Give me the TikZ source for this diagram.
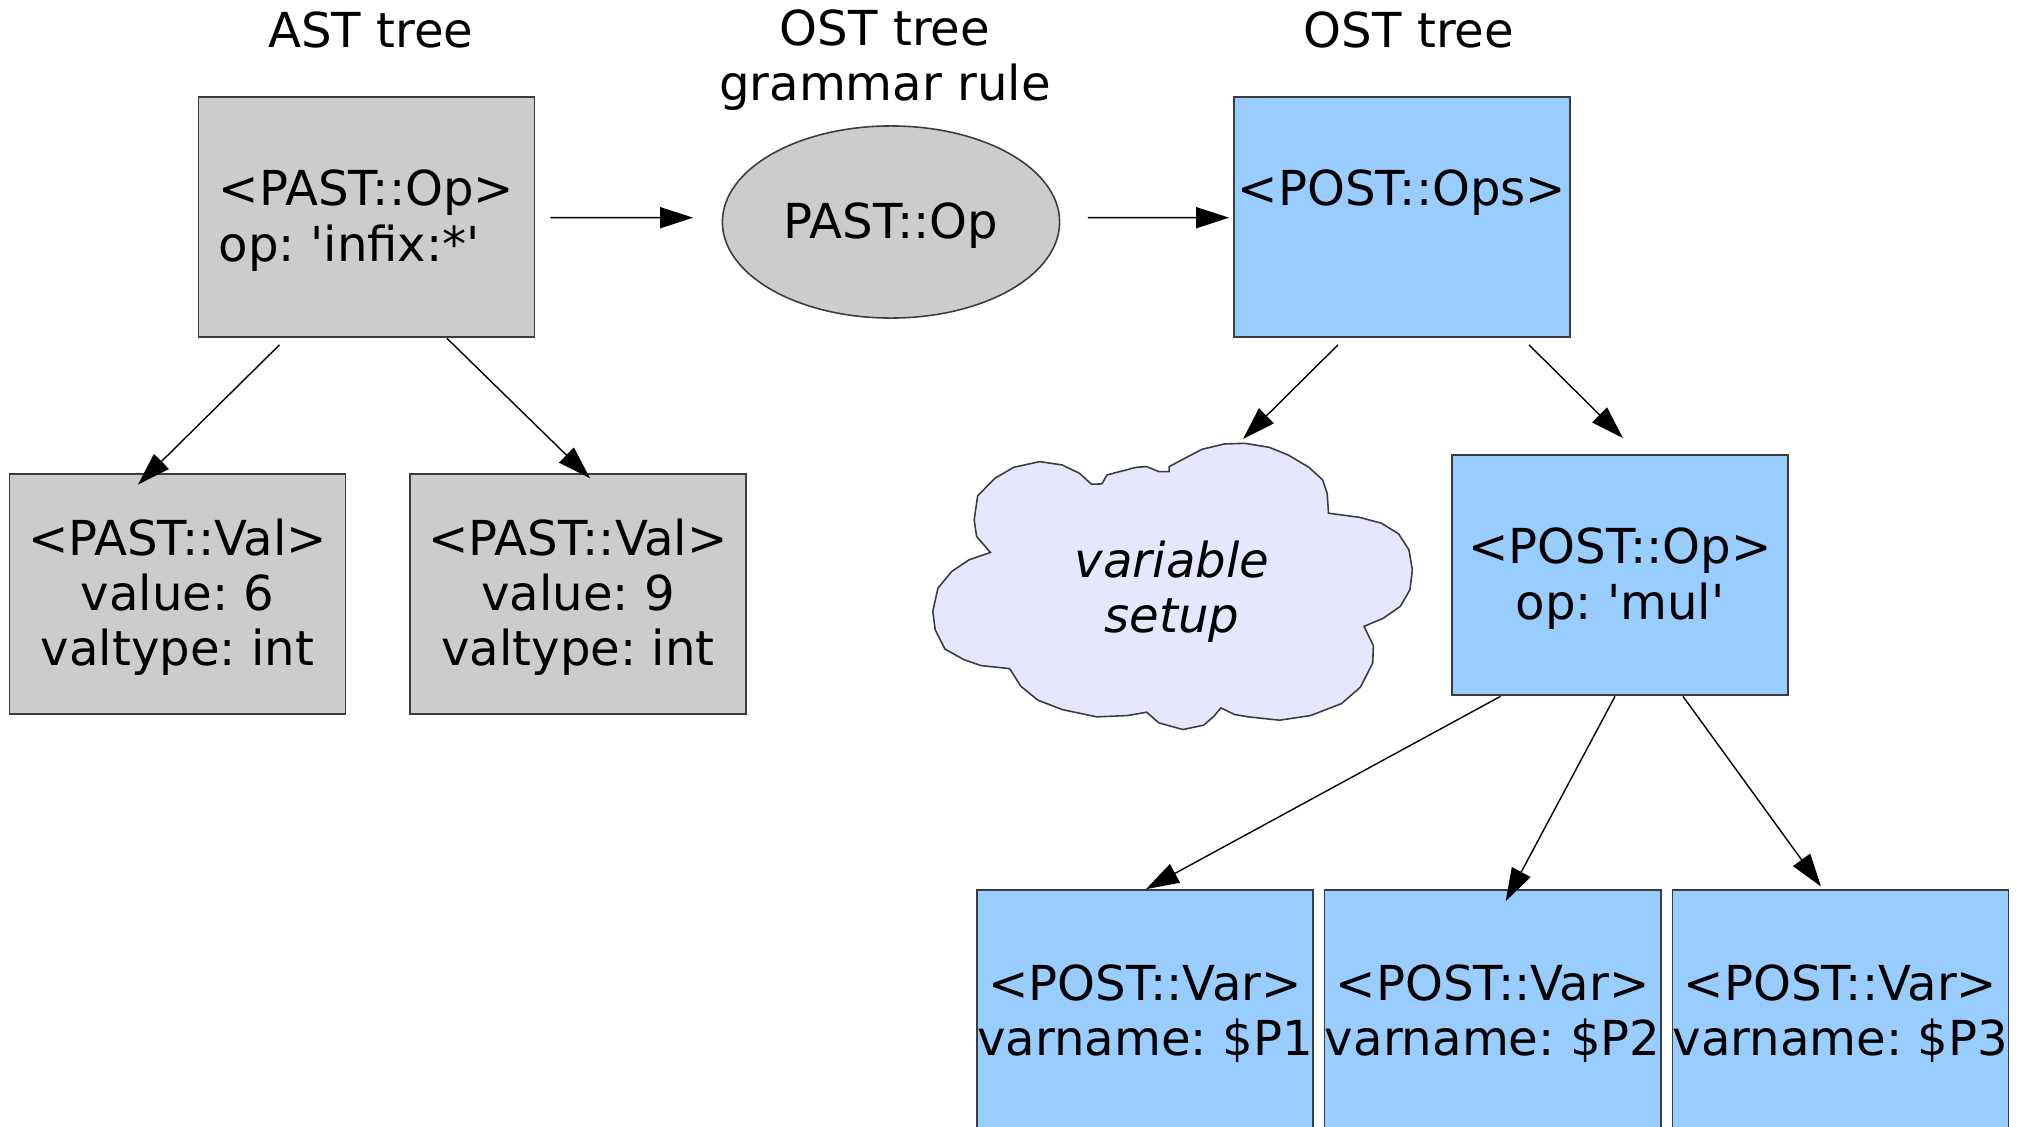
\documentclass[tikz,border=0pt]{standalone}
\usepackage{fontspec}
\setmainfont{DejaVu Sans}
\usetikzlibrary{shapes.geometric,arrows.meta,calc}
\definecolor{greyfill}{HTML}{CCCCCC}
\definecolor{bluefill}{HTML}{99CCFF}
\definecolor{cloudfill}{HTML}{E6E6FF}
\definecolor{edgecol}{HTML}{3C3C3C}
\frenchspacing
\newcommand{\toppad}{\rule{0pt}{12.2pt}}
\begin{document}
\begin{tikzpicture}[x=0.01cm,y=-0.01cm,
  font=\fontsize{13.7}{15.7}\selectfont,
  box/.style={draw=edgecol, line width=0.45pt, minimum width=3.36cm, minimum height=2.4cm, inner sep=0pt, align=center},
  greybox/.style={box, fill=greyfill},
  bluebox/.style={box, fill=bluefill},
  titlenode/.style={align=center, inner sep=0pt},
  arr/.style={draw=black, line width=0.4pt, -{Triangle[length=0.33cm,width=0.21cm]}}
]
\useasboundingbox (0,0) rectangle (2020,1127);
\clip (0,0) rectangle (2020,1127);

% titles
\node[titlenode] (t1) at (371,30) {AST tree};
\node[titlenode] (t2) at (885,60) {OST tree\\grammar rule};
\node[titlenode] (t3) at (1409,30) {OST tree};

% AST side
\node[greybox, align=left] (ast) at (366.5,217) {\toppad<PAST::Op>\\op: \textquotesingle infix:*\textquotesingle};
\node[greybox] (val6) at (177.5,594) {\toppad<PAST::Val>\\value: 6\\valtype: int};
\node[greybox] (val9) at (578,594) {\toppad<PAST::Val>\\value: 9\\valtype: int};

% grammar rule
\node[draw=edgecol, line width=0.45pt, fill=greyfill, ellipse, minimum width=3.37cm, minimum height=1.92cm, inner sep=0pt] (ell) at (891,222) {\toppad PAST::Op};

% OST side
\node[bluebox] (ost) at (1402,217) {\toppad<POST::Ops>\\\phantom{op: \textquotesingle infix:*\textquotesingle}};
\node[bluebox] (op) at (1620,575) {\toppad<POST::Op>\\op: \textquotesingle mul\textquotesingle};
\node[bluebox] (var1) at (1145,1010) {\toppad<POST::Var>\\varname: \$P1};
\node[bluebox] (var2) at (1492.7,1010) {\toppad<POST::Var>\\varname: \$P2};
\node[bluebox] (var3) at (1840.5,1010) {\toppad<POST::Var>\\varname: \$P3};

% cloud
\begin{scope}[shift={(900,430)}, x={(0.003444cm,0)}, y={(0,-0.003333cm)}]
\draw[draw=edgecol, line width=0.45pt, fill=cloudfill]
 (555,163) -- (520,130) -- (470,105) -- (405,95) -- (330,112) -- (275,145) -- (225,198)
 -- (215,270) -- (222,320) -- (262,368)
 -- (200,390) -- (150,425) -- (110,475) -- (95,545) -- (102,600) -- (130,658) -- (185,690) -- (235,708) -- (318,717)
 -- (350,770) -- (400,812) -- (470,840) -- (570,862) -- (660,858) -- (715,848)
 -- (750,880) -- (820,900) -- (880,887) -- (910,860) -- (930,835)
 -- (970,855) -- (1010,862) -- (1100,872) -- (1190,858) -- (1280,822) -- (1335,772) -- (1370,700) -- (1372,648) -- (1345,590)
 -- (1400,566) -- (1450,530) -- (1478,480) -- (1485,420) -- (1475,360) -- (1445,312) -- (1395,280) -- (1330,262) -- (1242,250)
 -- (1238,190) -- (1225,150) -- (1185,112) -- (1125,75) -- (1070,52) -- (1000,40) -- (940,42) -- (875,58) -- (780,110)
 -- (780,125) -- (750,125)
 -- (715,110) -- (685,112) -- (600,135) -- (585,162) -- cycle;
\end{scope}
\node[align=center, inner sep=0pt, font=\fontsize{13.7}{15.7}\selectfont\itshape] (cloud) at (1172,592) {variable\\setup};

% connectors
\draw[arr] ($(ast.south)+(-87,7)$) -- ($(val6.north)+(-39.5,11.5)$);
\draw[arr] ($(ast.south)+(80.5,0.5)$) -- ($(val9.north)+(12,5)$);
\draw[arr] ($(ast.east)+(15,0.7)$) -- ($(ell.west)+(-28.5,-4.3)$);
\draw[arr] ($(ell.east)+(27.5,-4.3)$) -- ($(ost.west)+(-4,0.7)$);
\draw[arr] ($(ost.south)+(-64,7)$) -- ($(cloud.center)+(71,-153)$);
\draw[arr] ($(ost.south)+(127,7)$) -- ($(op.north)+(3,-16)$);
\draw[arr] ($(op.south)+(-119.5,0.5)$) -- ($(var1.north)+(1,0)$);
\draw[arr] ($(op.south)+(-5,0.5)$) -- ($(var2.north)+(13,12)$);
\draw[arr] ($(op.south)+(63,0.5)$) -- ($(var3.north)+(-19.5,-2.6)$);
\end{tikzpicture}
\end{document}
